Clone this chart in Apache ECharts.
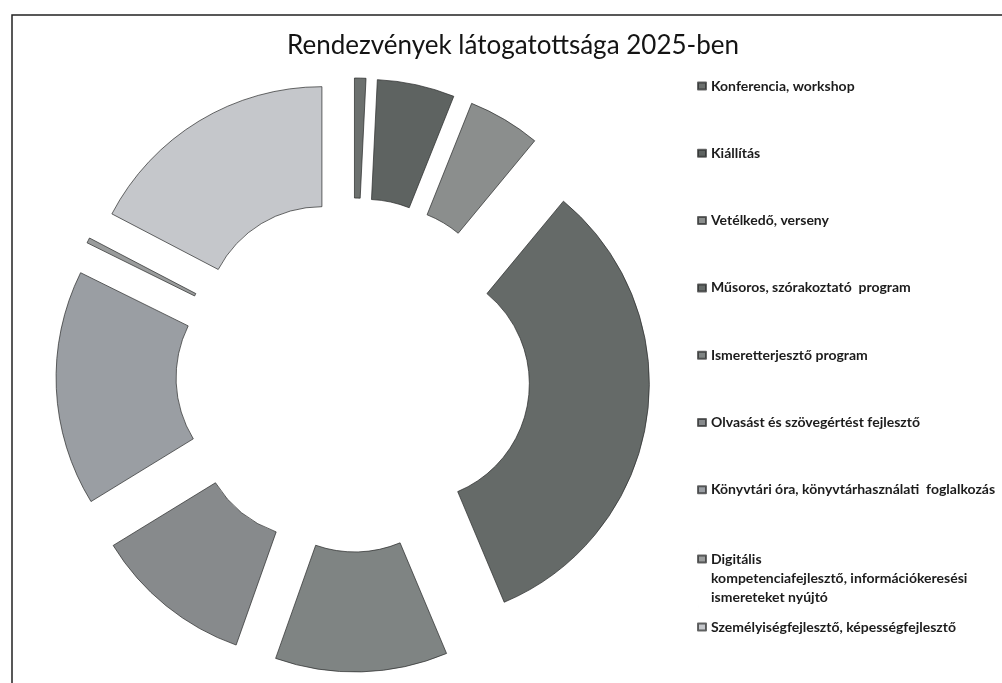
<!DOCTYPE html>
<html>
<head>
<meta charset="utf-8">
<script src="https://cdn.jsdelivr.net/npm/echarts@6/dist/echarts.min.js"></script>
<style>
html,body{margin:0;padding:0;background:#fff;}
#chart{width:1002px;height:683px;}
</style>
</head>
<body>
<div id="chart"></div>
<script>
// Data (share of each event type)
const categories = [
  'Konferencia, workshop',
  'Kiállítás',
  'Vetélkedő, verseny',
  'Műsoros, szórakoztató  program',
  'Ismeretterjesztő program',
  'Olvasást és szövegértést fejlesztő',
  'Könyvtári óra, könyvtárhasználati  foglalkozás',
  'Digitális\nkompetenciafejlesztő, információkeresési\nismereteket nyújtó',
  'Személyiségfejlesztő, képességfejlesztő'
];
const values = [28, 190, 178, 1176, 423, 390, 578, 13, 624];
const colors = ['#6c706e', '#5e6361', '#8b8e8d', '#656a68', '#7f8483', '#878a8c', '#9a9ea3', '#9a9c9c', '#c5c7cb'];
const titleText = 'Rendezvények látogatottsága 2025-ben';

const chart = echarts.init(document.getElementById('chart'), null, {renderer: 'canvas'});

const pieData = categories.map((name, i) => ({
  name: name,
  value: values[i],
  selected: true,
  itemStyle: {color: colors[i]},
  select: {itemStyle: {color: colors[i], borderColor: 'rgba(40,42,41,0.7)', borderWidth: 1}}
}));

const legendText = {
  fontFamily: 'Lato',
  fontSize: 14,
  fontWeight: 'bold',
  color: '#1c1c1c',
  lineHeight: 19
};

chart.setOption({
  backgroundColor: '#ffffff',
  animation: false,
  title: {
    text: titleText,
    left: 508,
    textAlign: 'center',
    top: 28,
    textStyle: {fontFamily: 'Lato', fontSize: 26, fontWeight: 'normal', color: '#141414'}
  },
  graphic: [{
    type: 'rect',
    shape: {x: 12, y: 15, width: 1010, height: 700},
    style: {fill: 'none', stroke: '#222', lineWidth: 1.5},
    silent: true,
    z: -1
  }],
  legend: [
    {
      orient: 'vertical',
      left: 697,
      top: 76.5,
      padding: 0,
      itemGap: 48.3,
      itemWidth: 8,
      itemHeight: 7,
      icon: 'rect',
      selectedMode: false,
      data: categories.slice(0, 7),
      textStyle: legendText
    },
    {
      orient: 'vertical',
      left: 697,
      top: 548.5,
      padding: 0,
      itemWidth: 8,
      itemHeight: 57,
      icon: 'path://M0,0h0.01M0,6h8v7h-8zM0,57h0.01',
      selectedMode: false,
      data: categories.slice(7, 8),
      textStyle: legendText
    },
    {
      orient: 'vertical',
      left: 697,
      top: 617.5,
      padding: 0,
      itemWidth: 8,
      itemHeight: 7,
      icon: 'rect',
      selectedMode: false,
      data: categories.slice(8, 9),
      textStyle: legendText
    }
  ],
  series: [{
    type: 'pie',
    center: [353, 375],
    radius: [117, 237],
    startAngle: 90,
    clockwise: true,
    selectedMode: 'multiple',
    selectedOffset: 60,
    avoidLabelOverlap: false,
    label: {show: false},
    labelLine: {show: false},
    itemStyle: {borderColor: 'rgba(40,42,41,0.7)', borderWidth: 1},
    emphasis: {disabled: true},
    data: pieData
  }]
});
</script>
</body>
</html>
